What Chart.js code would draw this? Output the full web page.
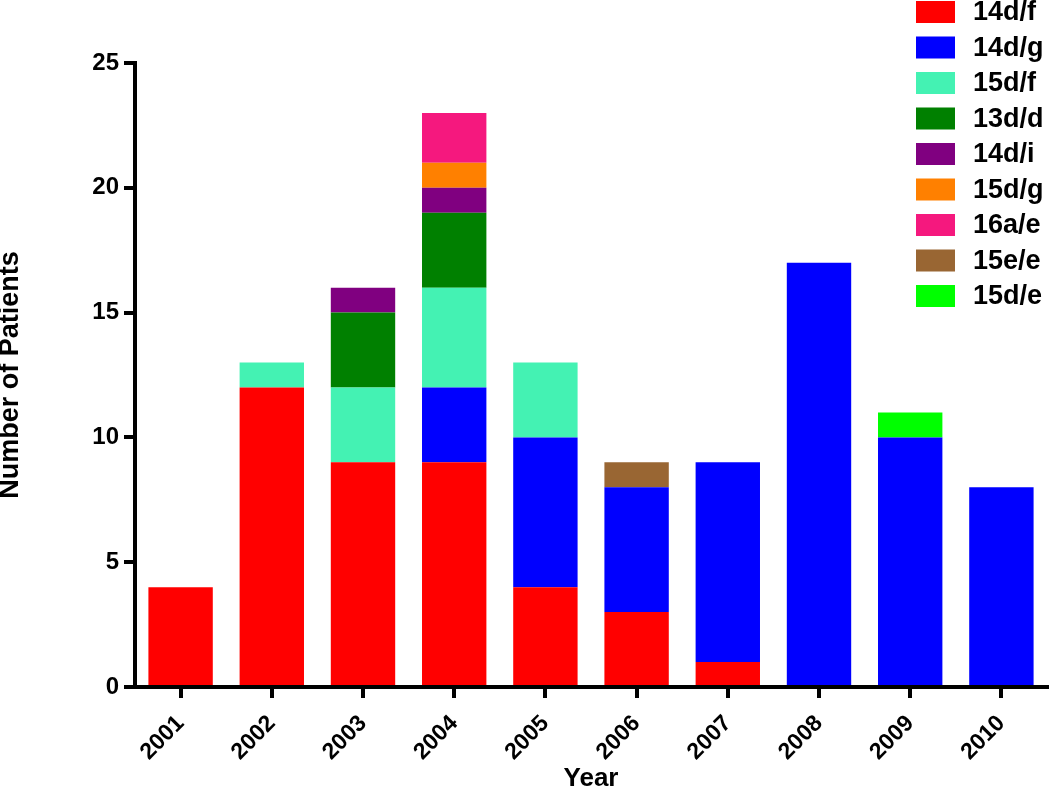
<!DOCTYPE html>
<html>
<head>
<meta charset="utf-8">
<script src="https://cdn.jsdelivr.net/npm/chart.js@4"></script>
<style>
  body { margin: 0; background: #fff; }
  #wrap { width: 1050px; height: 789px; }
</style>
</head>
<body>
<div id="wrap"><canvas id="chart" width="1050" height="789"></canvas></div>
<script>
const years = ["2001", "2002", "2003", "2004", "2005", "2006", "2007", "2008", "2009", "2010"];

const s14df = [4, 12, 9, 9, 4, 3, 1, 0, 0, 0];
const s14dg = [0, 0, 0, 3, 6, 5, 8, 17, 10, 8];
const s15df = [0, 1, 3, 4, 3, 0, 0, 0, 0, 0];
const s13dd = [0, 0, 3, 3, 0, 0, 0, 0, 0, 0];
const s14di = [0, 0, 1, 1, 0, 0, 0, 0, 0, 0];
const s15dg = [0, 0, 0, 1, 0, 0, 0, 0, 0, 0];
const s16ae = [0, 0, 0, 2, 0, 0, 0, 0, 0, 0];
const s15ee = [0, 0, 0, 0, 0, 1, 0, 0, 0, 0];
const s15de = [0, 0, 0, 0, 0, 0, 0, 0, 1, 0];

const yTicks = [0, 5, 10, 15, 20, 25];

const FONT = "'Liberation Sans', Arial, sans-serif";

function ds(label, data, color) {
  return {
    label,
    data,
    backgroundColor: color,
    borderWidth: 0,
    categoryPercentage: 1,
    barPercentage: 0.706
  };
}

// legend drawn by hand, top right, partly above the plot
const legendPlugin = {
  id: "sideLegend",
  afterDraw(chart) {
    const ctx = chart.ctx;
    ctx.save();
    ctx.font = "bold 27px " + FONT;
    ctx.textBaseline = "middle";
    ctx.textAlign = "left";
    chart.data.datasets.forEach((d, i) => {
      const top = 1 + i * 35.5;
      ctx.fillStyle = d.backgroundColor;
      ctx.fillRect(916, top, 39, 22);
      ctx.fillStyle = "#000";
      ctx.fillText(d.label, 973, top + 12);
    });
    ctx.restore();
  }
};

const chart = new Chart(document.getElementById("chart"), {
  type: "bar",
  data: {
    labels: years,
    datasets: [
      ds("14d/f", s14df, "#ff0000"),
      ds("14d/g", s14dg, "#0000ff"),
      ds("15d/f", s15df, "#44f2b3"),
      ds("13d/d", s13dd, "#008000"),
      ds("14d/i", s14di, "#800080"),
      ds("15d/g", s15dg, "#ff8000"),
      ds("16a/e", s16ae, "#f5187e"),
      ds("15e/e", s15ee, "#996633"),
      ds("15d/e", s15de, "#00ff00")
    ]
  },
  options: {
    responsive: false,
    animation: false,
    layout: { padding: { top: 63, right: 3, bottom: 0, left: 0 } },
    plugins: {
      legend: { display: false },
      tooltip: { enabled: false }
    },
    scales: {
      x: {
        stacked: true,
        border: { display: true, width: 4, color: "#000" },
        grid: {
          offset: false,
          drawOnChartArea: false,
          drawTicks: true,
          tickLength: 11,
          lineWidth: 4,
          color: "#000"
        },
        ticks: {
          color: "#000",
          font: { family: FONT, size: 23, weight: "bold" },
          minRotation: 45,
          maxRotation: 45,
          padding: 12
        },
        title: {
          display: true,
          text: "Year",
          color: "#000",
          font: { family: FONT, size: 26, weight: "bold", lineHeight: 0.8 },
          padding: 0
        },
        afterFit(scale) { scale.height = 102; }
      },
      y: {
        stacked: true,
        min: 0,
        max: 25,
        afterBuildTicks(scale) { scale.ticks = yTicks.map(v => ({ value: v })); },
        border: { display: true, width: 4, color: "#000" },
        grid: {
          drawOnChartArea: false,
          drawTicks: true,
          tickLength: 11,
          lineWidth: 4,
          color: "#000"
        },
        ticks: {
          color: "#000",
          font: { family: FONT, size: 24, weight: "bold" },
          padding: 5
        },
        title: {
          display: true,
          text: "Number of Patients",
          color: "#000",
          font: { family: FONT, size: 27, weight: "bold", lineHeight: 0.8 },
          padding: 0
        },
        afterFit(scale) { scale.width = 135; }
      }
    }
  },
  plugins: [legendPlugin]
});
</script>
</body>
</html>
